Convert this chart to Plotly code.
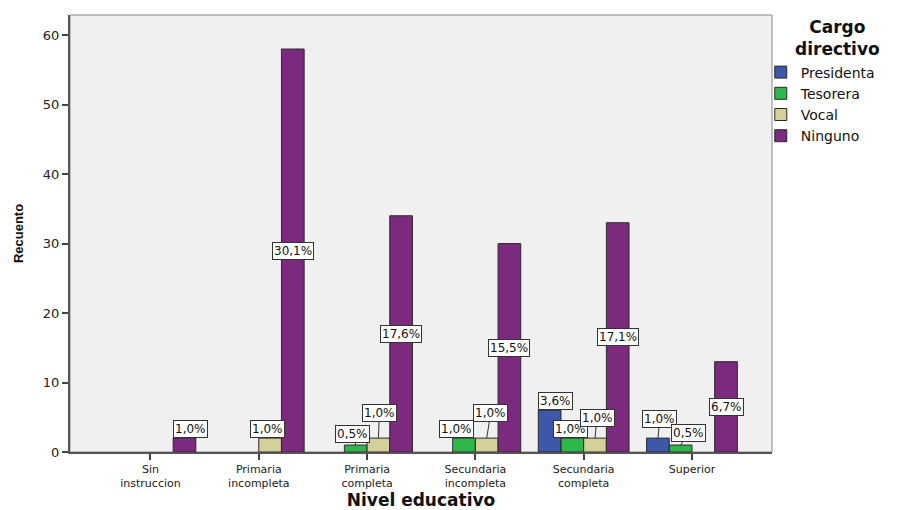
import plotly.graph_objects as go

# ---------------- data ----------------
categories = ["Sin<br>instruccion", "Primaria<br>incompleta", "Primaria<br>completa",
              "Secundaria<br>incompleta", "Secundaria<br>completa", "Superior"]
series_names = ["Presidenta", "Tesorera", "Vocal", "Ninguno"]
presidenta = [None, None, None, None, 6, 2]
tesorera = [None, None, 1, 2, 2, 1]
vocal = [None, 2, 2, 2, 2, None]
ninguno = [2, 58, 34, 30, 33, 13]
presidenta_lbl = [None, None, None, None, "3,6%", "1,0%"]
tesorera_lbl = [None, None, "0,5%", "1,0%", "1,0%", "0,5%"]
vocal_lbl = [None, "1,0%", "1,0%", "1,0%", "1,0%", None]
ninguno_lbl = ["1,0%", "30,1%", "17,6%", "15,5%", "17,1%", "6,7%"]
y_ticks = [0, 10, 20, 30, 40, 50, 60]

# ---------------- style ----------------
colors = ["#3D57A9", "#2EB84B", "#D5CF9A", "#7B2A7E"]
values = [presidenta, tesorera, vocal, ninguno]
labels = [presidenta_lbl, tesorera_lbl, vocal_lbl, ninguno_lbl]

BARGAP = 0.162
bar_w = (1 - BARGAP) / 4

# pixel offsets of label boxes for labels sitting above bars: (series, category) -> (ax, ay)
above_offsets = {
    (3, 0): (6, -9),
    (2, 1): (-3, -9),
    (1, 2): (-3, -11),
    (2, 2): (1, -25),
    (1, 3): (-8, -9),
    (2, 3): (4, -25),
    (0, 4): (6, -9),
    (1, 4): (-2, -9),
    (2, 4): (2, -20),
    (0, 5): (2, -19),
    (1, 5): (8, -12),
}

fig = go.Figure()
for name, vals, col in zip(series_names, values, colors):
    fig.add_trace(go.Bar(
        name=name, x=categories, y=vals,
        marker=dict(color=col, line=dict(color="#2a2a2a", width=1)),
        hoverinfo="x+y+name",
    ))

box_font = dict(family="DejaVu Sans", size=12, color="#111")
annotations = []
for si in range(4):
    for ci, (v, t) in enumerate(zip(values[si], labels[si])):
        if v is None or t is None:
            continue
        xpos = ci + (si - 1.5) * bar_w
        if (si, ci) in above_offsets:
            ax, ay = above_offsets[(si, ci)]
            annotations.append(dict(
                x=xpos, y=v, xref="x", yref="y", text=t, showarrow=True,
                arrowhead=0, arrowwidth=1, arrowcolor="#333", ax=ax, ay=ay,
                standoff=0, startstandoff=0,
                bgcolor="white", bordercolor="#333", borderwidth=1, borderpad=1,
                font=box_font,
            ))
        else:
            annotations.append(dict(
                x=xpos, y=v / 2, xref="x", yref="y", text=t, showarrow=False,
                bgcolor="white", bordercolor="#333", borderwidth=1, borderpad=1,
                font=box_font,
            ))

# legend title (centred, two lines)
annotations.append(dict(
    text="<b>Cargo<br>directivo</b>", xref="paper", yref="paper",
    x=1.094, y=0.947, xanchor="center", yanchor="middle", showarrow=False,
    align="center", font=dict(family="DejaVu Sans", size=17, color="#111"),
))

# page body adds an 8px margin -> figure drawn 8px smaller, margins shifted
fig.update_layout(
    width=892, height=502,
    margin=dict(l=62, r=128, t=7, b=58, autoexpand=False),
    paper_bgcolor="white", plot_bgcolor="#F0F0F0",
    barmode="group", bargap=BARGAP, bargroupgap=0,
    font=dict(family="DejaVu Sans", color="#222"),
    showlegend=True,
    legend=dict(
        x=0.984, xanchor="left", y=0.905, yanchor="top",
        bgcolor="rgba(0,0,0,0)", borderwidth=0,
        font=dict(family="DejaVu Sans", size=14, color="#111"),
        tracegroupgap=0, itemclick=False,
    ),
    xaxis=dict(
        type="category", range=[-0.743, 5.739],
        showgrid=False, zeroline=False,
        showline=True, linecolor="#555", linewidth=1.5,
        ticks="outside", ticklen=6, tickcolor="#444", tickwidth=1.5,
        tickfont=dict(family="DejaVu Sans", size=11, color="#222"),
        title=dict(text="<b>Nivel educativo</b>", standoff=6,
                   font=dict(family="DejaVu Sans", size=17, color="#111")),
    ),
    yaxis=dict(
        range=[0, 62.9], tickvals=y_ticks,
        showgrid=False, zeroline=False,
        showline=True, linecolor="#555", linewidth=2,
        ticks="outside", ticklen=6, tickcolor="#444", tickwidth=1.5,
        tickfont=dict(family="DejaVu Sans", size=13, color="#222"),
        title=dict(text="<b>Recuento</b>", standoff=16,
                   font=dict(family="Liberation Sans", size=13, color="#111")),
    ),
    shapes=[dict(type="rect", xref="paper", yref="paper", x0=0, x1=1, y0=0, y1=1,
                 line=dict(color="#8a8a8a", width=1), layer="below")],
    annotations=annotations,
)

fig.write_html("out.html")
